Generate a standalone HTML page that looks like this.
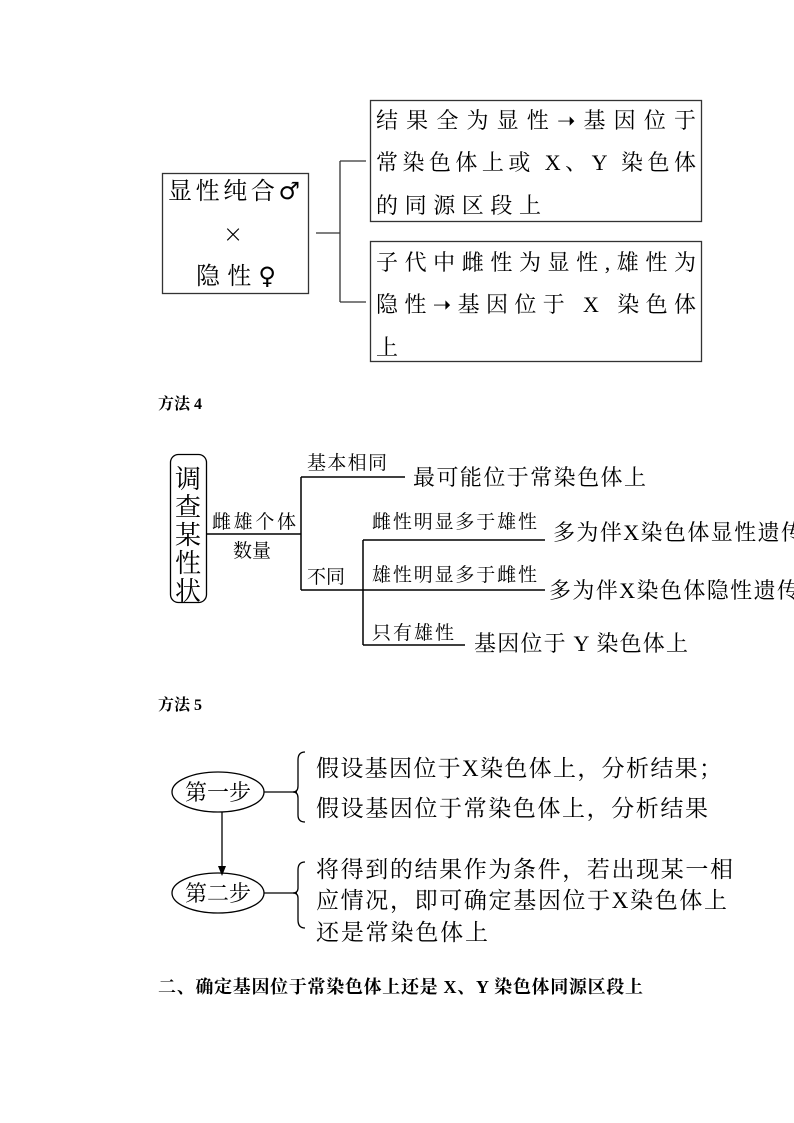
<!DOCTYPE html>
<html><head><meta charset="utf-8"><style>
html,body{margin:0;padding:0;background:#fff;}
svg{display:block}
text{font-family:"Liberation Serif","Noto Serif CJK SC","Noto Sans CJK SC",serif;fill:#000}
.sym{font-family:"DejaVu Sans",sans-serif}
</style></head><body>
<svg width="794" height="1123" viewBox="0 0 794 1123" xmlns="http://www.w3.org/2000/svg">
<g stroke="#333" stroke-width="1.3" fill="none">
<rect x="162.5" y="173.5" width="146" height="120"/>
<rect x="370.5" y="100.5" width="331" height="121"/>
<rect x="370.5" y="241.5" width="331" height="120"/>
<path d="M316 233H340M340 161V302M340 161H366M340 302H366"/>
</g>
<g font-size="24">
<text x="168" y="199" textLength="132" lengthAdjust="spacing">显性纯合<tspan class="sym" font-size="24">♂</tspan></text>
<text x="223" y="242" class="sym" font-weight="100">×</text>
<text x="196" y="284" textLength="80" lengthAdjust="spacing">隐性<tspan class="sym" font-size="24">♀</tspan></text>
</g>
<g font-size="22">
<text x="376" y="128" textLength="320" lengthAdjust="spacing">结果全为显性➝基因位于</text>
<text x="376" y="170" textLength="320" lengthAdjust="spacing">常染色体上或 X、Y 染色体</text>
<text x="376" y="213" textLength="165" lengthAdjust="spacing">的同源区段上</text>
<text x="376" y="270" textLength="320" lengthAdjust="spacing">子代中雌性为显性,雄性为</text>
<text x="376" y="312" textLength="320" lengthAdjust="spacing">隐性➝基因位于 X 染色体</text>
<text x="376" y="355">上</text>
</g>
<g font-size="16" font-weight="bold">
<text x="158" y="409">方法 4</text>
<text x="158" y="710">方法 5</text>
<text x="158" y="993" font-size="18" textLength="485" lengthAdjust="spacing">二、确定基因位于常染色体上还是 X、Y 染色体同源区段上</text>
</g>
<rect x="170.5" y="454.5" width="36" height="148" rx="8" fill="none" stroke="#000" stroke-width="1.3"/>
<g font-size="26"><text x="175" y="488">调</text><text x="175" y="516">查</text><text x="175" y="544">某</text><text x="175" y="572">性</text><text x="175" y="600">状</text></g>
<g stroke="#000" stroke-width="1.5" fill="none">
<path d="M207 534H301M301 477V590M301 477H405M301 590H545M363 540V645M363 540H545M363 645H465"/>
</g>
<g font-size="19">
<text x="212" y="528" textLength="84" lengthAdjust="spacing">雌雄个体</text>
<text x="233" y="557">数量</text>
<text x="307" y="469" textLength="80" lengthAdjust="spacing">基本相同</text>
<text x="307" y="583">不同</text>
<text x="372" y="528" textLength="165" lengthAdjust="spacing">雌性明显多于雄性</text>
<text x="372" y="581" textLength="165" lengthAdjust="spacing">雄性明显多于雌性</text>
<text x="372" y="639" textLength="82" lengthAdjust="spacing">只有雄性</text>
</g>
<g font-size="22">
<text x="413" y="485" textLength="233" lengthAdjust="spacing">最可能位于常染色体上</text>
<text x="553" y="540" textLength="250" lengthAdjust="spacing">多为伴X染色体显性遗传</text>
<text x="549" y="598" textLength="250" lengthAdjust="spacing">多为伴X染色体隐性遗传</text>
<text x="474" y="651" textLength="214" lengthAdjust="spacing">基因位于 Y 染色体上</text>
</g>
<g stroke="#000" stroke-width="1.3" fill="none">
<ellipse cx="218" cy="792" rx="46" ry="20"/>
<ellipse cx="218" cy="893" rx="46" ry="20"/>
<path d="M222 812V866"/>
<path d="M264 792H297M264 893H297"/>
<path d="M305 752Q298 752 298 760V786Q298 792 293 792Q298 792 298 798V815Q298 822 305 822"/>
<path d="M305 862Q298 862 298 870V888Q298 893 293 893Q298 893 298 898V920Q298 928 305 928"/>
</g>
<path d="M218 866L226 866L222 876Z" fill="#000"/>
<g font-size="22">
<text x="185" y="800">第一步</text>
<text x="185" y="901">第二步</text>
</g>
<g font-size="23">
<text x="316" y="776" textLength="406" lengthAdjust="spacing">假设基因位于X染色体上，分析结果；</text>
<text x="316" y="816" textLength="392" lengthAdjust="spacing">假设基因位于常染色体上，分析结果</text>
<text x="316" y="877" textLength="417" lengthAdjust="spacing">将得到的结果作为条件，若出现某一相</text>
<text x="316" y="908" textLength="411" lengthAdjust="spacing">应情况，即可确定基因位于X染色体上</text>
<text x="316" y="940" textLength="172" lengthAdjust="spacing">还是常染色体上</text>
</g>
</svg>
</body></html>
